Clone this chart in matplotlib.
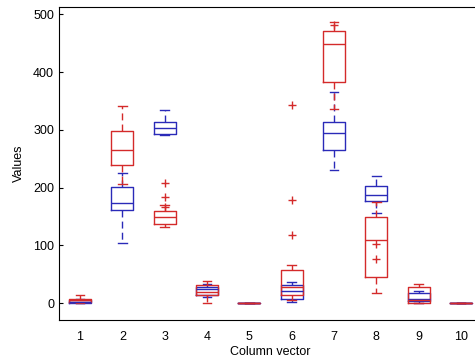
import matplotlib.pyplot as plt
import numpy as np

plt.rcParams['font.family'] = ['Liberation Sans', 'DejaVu Sans']

# column positions
cols = np.arange(1, 11)

# red group (whisker low, q1, median, q3, whisker high, outliers)
red_lo = [0, 207, 132, 1, 0, 5, 337, 17, 0, 0]
red_q1 = [2, 240, 137, 15, 0, 15, 383, 46, 0, 0]
red_med = [5, 265, 150, 19, 0, 28, 448, 109, 5, 0]
red_q3 = [8, 299, 160, 31, 0, 57, 471, 149, 28, 0]
red_hi = [15, 342, 170, 38, 0, 67, 487, 175, 33, 0]
red_out = [[], [], [167, 184, 208], [], [], [118, 179, 343], [482], [77, 103], [], []]

# blue group
blue_lo = [0, 105, 292, 10, 0, 2, 231, 157, 0, 0]
blue_q1 = [1, 161, 293, 15, 0, 7, 266, 177, 4, 0]
blue_med = [3, 173, 303, 24, 0, 21, 295, 187, 8, 0]
blue_q3 = [6, 201, 313, 28, 0, 31, 313, 203, 18, 0]
blue_hi = [8, 225, 334, 33, 0, 37, 365, 220, 22, 0]
blue_out = [[] for _ in cols]

red = '#d42a2a'
blue = '#2a2ab8'

fig = plt.figure(figsize=(4.75, 3.62), dpi=100)
ax = fig.add_axes([0.124, 0.116, 0.891, 0.865])


def draw(lo, q1, med, q3, hi, out, color):
    stats = []
    for i in range(len(cols)):
        stats.append(dict(whislo=lo[i], q1=q1[i], med=med[i], q3=q3[i],
                          whishi=hi[i], fliers=out[i]))
    ax.bxp(stats, positions=cols, widths=0.52, capwidths=0.2,
           showfliers=True, manage_ticks=False,
           boxprops=dict(color=color, linewidth=1),
           medianprops=dict(color=color, linewidth=1),
           whiskerprops=dict(color=color, linewidth=1, linestyle=(0, (5, 3))),
           capprops=dict(color=color, linewidth=1),
           flierprops=dict(marker='+', markeredgecolor=color, markersize=6,
                           linestyle='none'))


# blue first so the red sits on top where they coincide
draw(blue_lo, blue_q1, blue_med, blue_q3, blue_hi, blue_out, blue)
draw(red_lo, red_q1, red_med, red_q3, red_hi, red_out, red)

ax.set_xlim(0.5, 10.5)
ax.set_ylim(-29, 513)
ax.set_xticks(cols)
ax.set_xticklabels([str(c) for c in cols])
ax.set_yticks([0, 100, 200, 300, 400, 500])
ax.tick_params(axis='x', length=0, labelsize=9, pad=8)
ax.tick_params(axis='y', direction='in', length=3, labelsize=9)
ax.spines['right'].set_visible(False)
ax.set_xlabel('Column vector', fontsize=9, labelpad=2)
ax.set_ylabel('Values', fontsize=9, labelpad=6)

fig.savefig('out.png', dpi=100)
